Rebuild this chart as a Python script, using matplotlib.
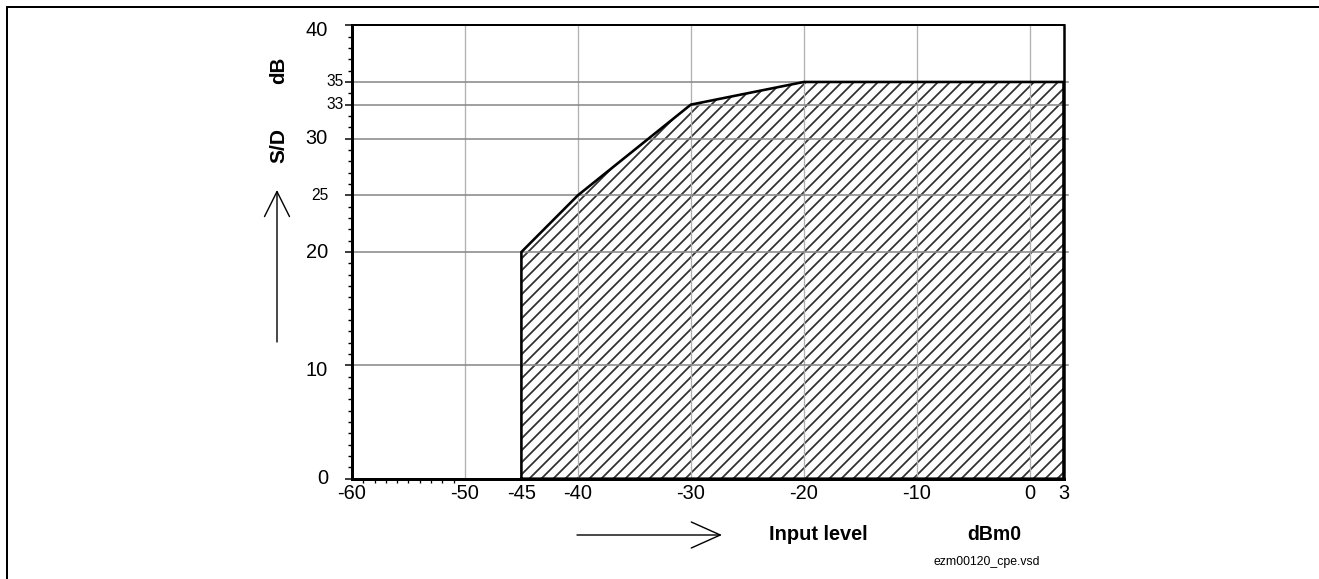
import matplotlib
matplotlib.use("Agg")
import matplotlib.pyplot as plt
from matplotlib.patches import FancyArrowPatch
from matplotlib.lines import Line2D
import matplotlib.transforms as mtransforms

plt.rcParams['font.family'] = ['Liberation Sans', 'DejaVu Sans']
plt.rcParams['hatch.linewidth'] = 1.8

# S/D limit mask (input level dBm0 -> S/D dB)
level = [-45, -45, -40, -30, -20, 3, 3]
sd = [0, 20, 25, 33, 35, 35, 0]

x_ticks = [-60, -50, -45, -40, -30, -20, -10, 0, 3]
x_grid = [-50, -40, -30, -20, -10, 0]
y_big = [0, 10, 20, 30, 40]
y_small = [25, 33, 35]
y_grid = [10, 20, 25, 30, 33, 35]

W, H = 1319, 579
fig = plt.figure(figsize=(W / 72, H / 72), dpi=72)
ax = fig.add_axes([352 / W, 1 - 478.7 / H, 711.5 / W, 453.4 / H])
ax.set_xlim(-60, 3)
ax.set_ylim(0, 40)

# hatched area
ax.fill(level, sd, facecolor='white', edgecolor='#333333', hatch='//', lw=0, zorder=1)

for g in x_grid:
    ax.axvline(g, color='#b0b0b0', lw=1.3, zorder=2)
for g in y_grid:
    ax.axhline(g, xmin=0, xmax=1 + 4 / 711.5, color='#8a8a8a', lw=1.6, zorder=2, clip_on=False)

ax.plot(level + [level[0]], sd + [sd[0]], color='black', lw=2.6, zorder=3,
        solid_joinstyle='miter', clip_on=False)

for side, lw in [('left', 3), ('bottom', 3), ('top', 2), ('right', 2.5)]:
    ax.spines[side].set_linewidth(lw)
    ax.spines[side].set_zorder(4)

# x axis
ax.set_xticks(x_ticks)
ax.set_xticklabels([str(v) for v in x_ticks], fontsize=20)
ax.set_xticks(range(-59, -50), minor=True)
ax.tick_params(axis='x', which='major', length=0, pad=5)
ax.tick_params(axis='x', which='minor', direction='out', length=4, width=1.3)

# y axis: labels drawn by hand because of the mixed sizes
ax.set_yticks(y_big + y_small)
ax.set_yticklabels([])
ax.set_yticks(range(0, 41), minor=True)
ax.tick_params(axis='y', which='major', direction='out', length=7, width=1.5)
ax.tick_params(axis='y', which='minor', direction='out', length=4.5, width=1.4)

blend = mtransforms.blended_transform_factory(ax.transAxes, ax.transData)
for v in y_big:
    dy = -5 if v in (40, 10) else 0
    off = mtransforms.ScaledTranslation(-24 / 72, dy / 72, fig.dpi_scale_trans)
    ax.text(0, v, str(v), fontsize=20, ha='right', va='center', transform=blend + off)
for v in y_small:
    dx = -24 if v == 25 else -8
    off = mtransforms.ScaledTranslation(dx / 72, 0, fig.dpi_scale_trans)
    ax.text(0, v, str(v), fontsize=15.5, ha='right', va='center', transform=blend + off)

# axis captions
fig.text(279 / W, 1 - 145 / H, 'S/D', rotation=90, fontsize=21, fontweight='bold',
         ha='center', va='center')
fig.text(279 / W, 1 - 70 / H, 'dB', rotation=90, fontsize=20.5, fontweight='bold',
         ha='center', va='center')
fig.text(818 / W, 1 - 535 / H, 'Input level', fontsize=20, fontweight='bold',
         ha='center', va='center')
fig.text(994 / W, 1 - 535 / H, 'dBm0', fontsize=19.5, fontweight='bold',
         ha='center', va='center')
fig.text(1040 / W, 1 - 562 / H, 'ezm00120_cpe.vsd', fontsize=12.3, ha='right', va='center')

# direction arrows
fig.add_artist(FancyArrowPatch((277 / W, 1 - 342 / H), (277 / W, 1 - 190 / H),
                               transform=fig.transFigure,
                               arrowstyle='->,head_length=25,head_width=12.5',
                               mutation_scale=1, lw=1.4, color='black',
                               shrinkA=0, shrinkB=0))
fig.add_artist(FancyArrowPatch((577 / W, 1 - 535 / H), (722 / W, 1 - 535 / H),
                               transform=fig.transFigure,
                               arrowstyle='->,head_length=29,head_width=13',
                               mutation_scale=1, lw=1.4, color='black',
                               shrinkA=0, shrinkB=0))

# frame on top and left edges
fig.add_artist(Line2D([7 / W, 1], [1 - 7 / H, 1 - 7 / H], transform=fig.transFigure,
                      color='black', lw=2))
fig.add_artist(Line2D([7 / W, 7 / W], [0, 1 - 7 / H], transform=fig.transFigure,
                      color='black', lw=2))

fig.savefig('out.png', dpi=72)
